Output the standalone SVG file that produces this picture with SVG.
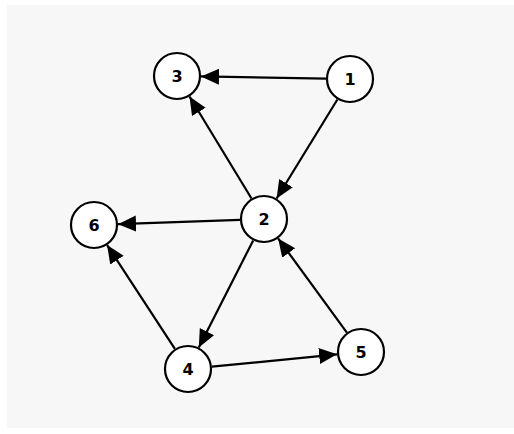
<svg xmlns="http://www.w3.org/2000/svg" width="514" height="434" viewBox="0 0 514 434">
<defs>
<marker id="arr" markerUnits="userSpaceOnUse" markerWidth="20" markerHeight="18" refX="18" refY="8" orient="auto">
<path d="M0,0 L18,8 L0,16 z" fill="#000"/>
</marker>
<style>
.edge{stroke:#000;stroke-width:2.2;fill:none;marker-end:url(#arr)}
.node circle{fill:#fff;stroke:#000;stroke-width:2.2}
.node text{font-family:"DejaVu Sans","Liberation Sans",sans-serif;font-weight:bold;font-size:16px;text-anchor:middle;dominant-baseline:central;fill:#000}
</style>
</defs>
<rect x="7" y="5" width="507" height="423" fill="#f7f7f7"/>
<g id="connectors">
<line class="edge" x1="326" y1="78.6" x2="201" y2="76.4"/>
<line class="edge" x1="337.4" y1="99.5" x2="276.6" y2="198.5"/>
<line class="edge" x1="251.5" y1="198.5" x2="189.5" y2="96.5"/>
<line class="edge" x1="240" y1="219.8" x2="118" y2="224.2"/>
<line class="edge" x1="253.2" y1="240.4" x2="198.8" y2="347.6"/>
<line class="edge" x1="346.9" y1="332.6" x2="278.1" y2="238.4"/>
<line class="edge" x1="174.9" y1="348.9" x2="107.1" y2="245.1"/>
<line class="edge" x1="211.9" y1="366.7" x2="337.1" y2="354.3"/>
</g>
<g id="node1" class="node"><circle cx="350" cy="79" r="23"/><text x="350" y="79">1</text></g>
<g id="node2" class="node"><circle cx="264" cy="219" r="23"/><text x="264" y="219">2</text></g>
<g id="node3" class="node"><circle cx="177" cy="76" r="23"/><text x="177" y="76">3</text></g>
<g id="node4" class="node"><circle cx="188" cy="369" r="23"/><text x="188" y="369">4</text></g>
<g id="node5" class="node"><circle cx="361" cy="352" r="23"/><text x="361" y="352">5</text></g>
<g id="node6" class="node"><circle cx="94" cy="225" r="23"/><text x="94" y="225">6</text></g>
</svg>
